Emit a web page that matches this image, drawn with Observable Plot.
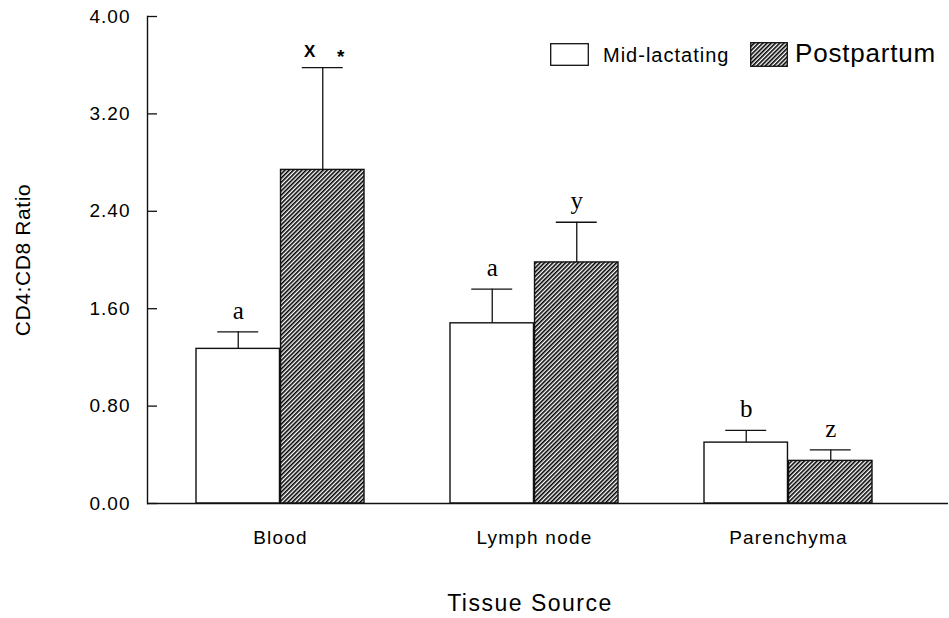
<!DOCTYPE html>
<html><head><meta charset="utf-8">
<script src="https://cdn.jsdelivr.net/npm/d3@7"></script>
<script src="https://cdn.jsdelivr.net/npm/@observablehq/plot@0.6"></script>
<style>
body{margin:0;background:#fff;}
#wrap{position:relative;width:949px;height:618px;font-family:Arial,"Liberation Sans",sans-serif;color:#000;}
#legend .lbl{position:absolute;white-space:nowrap;line-height:1;}
[aria-label="y-axis tick label"] text{letter-spacing:1px;}
[aria-label="x-axis tick label"] text{letter-spacing:1.2px;}
[aria-label="y-axis label"] text{font-size:21px;letter-spacing:0.6px;}
.xlab text{letter-spacing:1.5px;}
</style></head><body>
<svg width="0" height="0" style="position:absolute">
  <defs>
    <pattern id="hatch" patternUnits="userSpaceOnUse" width="3" height="3" patternTransform="rotate(45)">
      <rect width="3" height="3" fill="white"/>
      <rect x="0" y="0" width="1.6" height="3" fill="black"/>
    </pattern>
  </defs>
</svg>
<div id="wrap"><div id="chart"></div><div id="legend"></div></div>
<script>
// ---- data ----
const tissues = ["Blood", "Lymph node", "Parenchyma"];
const seriesNames = ["Mid-lactating", "Postpartum"];
const midMean = [1.27, 1.48, 0.50];
const midSE = [0.14, 0.28, 0.10];
const postMean = [2.74, 1.98, 0.35];
const postSE = [0.84, 0.33, 0.09];
const midLetters = ["a", "a", "b"];
const postLetters = ["X", "y", "z"];
const postStars = ["*", "", ""];
const yTicks = [0, 0.8, 1.6, 2.4, 3.2, 4.0];
const yLabel = "CD4:CD8 Ratio";
const xLabel = "Tissue Source";

const rows = tissues.map((t, i) => ({
  tissue: t, mid: midMean[i], midSE: midSE[i], post: postMean[i], postSE: postSE[i],
  midLetter: midLetters[i], postLetter: postLetters[i], star: postStars[i]
}));

// ---- layout ----
const W = 949, H = 618, mL = 147, mR = 1, mT = 16, mB = 115;
const xRange = [195, 874], pad = 0.337;
const bw = (xRange[1] - xRange[0]) / (tissues.length - pad) * (1 - pad);
const half = bw / 2, q = bw / 4, capHalf = 21;
const frameW = W - mL - mR;
const ink = "#111";
const serif = "'Liberation Serif','Times New Roman',serif";
const isSans = d => d.postLetter === d.postLetter.toUpperCase();

const chart = Plot.plot({
  width: W, height: H, marginTop: mT, marginBottom: mB, marginLeft: mL, marginRight: mR,
  style: {fontFamily: "Arial, 'Liberation Sans', sans-serif", fontSize: "19px", color: "#000", background: "white"},
  x: {type: "band", domain: tissues, range: xRange, paddingInner: pad, paddingOuter: 0},
  y: {domain: [0, 4]},
  marks: [
    Plot.barY(rows, {x: "tissue", y: "mid", fill: "white", stroke: ink, strokeWidth: 1.4, insetRight: half}),
    Plot.barY(rows, {x: "tissue", y: "post", fill: "url(#hatch)", stroke: ink, strokeWidth: 1.4, insetLeft: half}),
    Plot.ruleX(rows, {x: "tissue", y1: "mid", y2: d => d.mid + d.midSE, dx: -q, stroke: ink, strokeWidth: 1.3}),
    Plot.ruleX(rows, {x: "tissue", y1: "post", y2: d => d.post + d.postSE, dx: q, stroke: ink, strokeWidth: 1.3}),
    Plot.tickY(rows, {x: "tissue", y: d => d.mid + d.midSE, insetLeft: q - capHalf, insetRight: bw - q - capHalf, stroke: ink, strokeWidth: 1.3}),
    Plot.tickY(rows, {x: "tissue", y: d => d.post + d.postSE, insetLeft: 3 * q - capHalf, insetRight: q - capHalf, stroke: ink, strokeWidth: 1.3}),
    Plot.text(rows, {x: "tissue", y: d => d.mid + d.midSE, text: "midLetter", dx: -q, dy: -13, lineAnchor: "bottom", fontFamily: serif, fontSize: 25}),
    Plot.text(rows.filter(d => !isSans(d)), {x: "tissue", y: d => d.post + d.postSE, text: "postLetter", dx: q, dy: -13, lineAnchor: "bottom", fontFamily: serif, fontSize: 25}),
    Plot.text(rows.filter(isSans), {x: "tissue", y: d => d.post + d.postSE, text: "postLetter", dx: q - 13, dy: -10.5, lineAnchor: "bottom", fontSize: 17, fontWeight: "bold"}),
    Plot.text(rows.filter(d => d.star), {x: "tissue", y: d => d.post + d.postSE, text: "star", dx: q + 18, dy: -5, lineAnchor: "bottom", fontSize: 19, fontWeight: "bold"}),
    Plot.tickY(yTicks, {y: d => d, insetRight: frameW - 10, stroke: ink, strokeWidth: 1.3}),
    Plot.ruleY([0], {stroke: ink, strokeWidth: 1.4}),
    Plot.frame({anchor: "left", stroke: ink, strokeWidth: 1.4}),
    Plot.axisY({ticks: yTicks, tickSize: 0, tickPadding: 17, tickFormat: d => d.toFixed(2), fontSize: 19,
      label: yLabel, labelAnchor: "center", labelOffset: 132, labelArrow: "none"}),
    Plot.axisX({tickSize: 0, tickPadding: 27, fontSize: 19, label: null}),
    Plot.text([xLabel], {text: d => d, frameAnchor: "bottom", dx: -18, dy: 107, lineAnchor: "bottom", fontSize: 23, className: "xlab"})
  ]
});
document.getElementById("chart").appendChild(chart);

// ---- legend (HTML overlay inside plot area) ----
const legend = document.getElementById("legend");
const items = [
  {name: seriesNames[0], box: [550, 43, 39, 23], text: [603, 45], size: 20, ls: 1, hatch: false},
  {name: seriesNames[1], box: [750, 42, 38, 25], text: [795, 40], size: 26, ls: 0.8, hatch: true}
];
for (const it of items) {
  const [bx, by, bwid, bh] = it.box;
  const sw = document.createElementNS("http://www.w3.org/2000/svg", "svg");
  sw.setAttribute("width", bwid); sw.setAttribute("height", bh);
  sw.style.position = "absolute"; sw.style.left = bx + "px"; sw.style.top = by + "px";
  sw.innerHTML = `<rect x="0.7" y="0.7" width="${bwid - 1.4}" height="${bh - 1.4}" fill="${it.hatch ? "url(#hatch)" : "white"}" stroke="${ink}" stroke-width="1.3"/>`;
  legend.appendChild(sw);
  const t = document.createElement("div");
  t.className = "lbl";
  t.textContent = it.name;
  t.style.left = it.text[0] + "px"; t.style.top = it.text[1] + "px";
  t.style.fontSize = it.size + "px"; t.style.letterSpacing = it.ls + "px";
  legend.appendChild(t);
}
</script>
</body></html>
